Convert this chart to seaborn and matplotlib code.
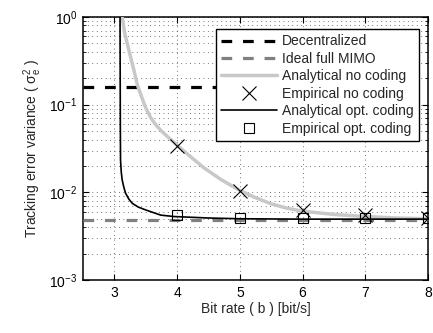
import numpy as np
import seaborn as sns
import matplotlib
matplotlib.use("Agg")
import matplotlib.pyplot as plt

# values
decentralized = 0.157
ideal_mimo = 0.0049

an_nocode_b = [3.115, 3.125, 3.16, 3.23, 3.31, 3.365, 3.43, 3.50, 3.58, 3.66,
               3.75, 3.85, 4.0, 4.2, 4.43, 4.7, 5.0, 5.25, 5.5, 5.75,
               6.0, 6.5, 7.0, 7.5, 8.0]
an_nocode_v = [1.3, 1.0, 0.68, 0.42, 0.25, 0.17, 0.125, 0.092, 0.071, 0.059,
               0.050, 0.043, 0.0345, 0.026, 0.019, 0.014, 0.0105, 0.0087, 0.0074, 0.0066,
               0.0061, 0.0056, 0.0053, 0.0051, 0.0050]

emp_nocode_b = [4, 5, 6, 7, 8]
emp_nocode_v = [0.034, 0.0104, 0.0063, 0.0055, 0.0051]

an_opt_b = [3.09, 3.092, 3.095, 3.098, 3.11, 3.125, 3.15, 3.178, 3.23, 3.285,
            3.38, 3.50, 3.74, 3.95, 4.5, 5.0, 6.0, 7.0, 8.0]
an_opt_v = [1.5, 0.3, 0.06, 0.0234, 0.017, 0.0138, 0.0115, 0.0098, 0.0084, 0.0075,
            0.0068, 0.0063, 0.0055, 0.0053, 0.0051, 0.0050, 0.00495, 0.00495, 0.00495]

emp_opt_b = [4, 5, 6, 7, 8]
emp_opt_v = [0.0055, 0.0051, 0.0051, 0.0051, 0.0051]

x_ticks = [3, 4, 5, 6, 7, 8]

sns.set_style("ticks")
plt.rcParams["font.family"] = ["Liberation Sans", "DejaVu Sans"]
plt.rcParams["font.size"] = 10
plt.rcParams["mathtext.fontset"] = "custom"
plt.rcParams["mathtext.rm"] = "Liberation Sans"
plt.rcParams["mathtext.it"] = "Liberation Sans:italic"
plt.rcParams["mathtext.sf"] = "Liberation Sans"
plt.rcParams["lines.scale_dashes"] = False

fig = plt.figure(figsize=(4.33, 3.33), dpi=100)
ax = fig.add_axes([0.1917, 0.159, 0.7968, 0.790])

dash = (0, (7.7, 7.8))
ax.axhline(decentralized, color="k", lw=2.3, ls=dash, label="Decentralized", zorder=3)
ax.axhline(ideal_mimo, color="#808080", lw=2.3, ls=dash, label="Ideal full MIMO", zorder=3)

sns.lineplot(x=an_nocode_b, y=an_nocode_v, ax=ax, color="#c8c8c8", lw=2.5,
             sort=False, estimator=None, label="Analytical no coding", zorder=4)
sns.lineplot(x=emp_nocode_b, y=emp_nocode_v, ax=ax, color="k", ls="", marker="x",
             markersize=9.5, mew=0.8, mec="k", sort=False, estimator=None,
             label="Empirical no coding", zorder=6)
sns.lineplot(x=an_opt_b, y=an_opt_v, ax=ax, color="k", lw=1.2,
             sort=False, estimator=None, label="Analytical opt. coding", zorder=5)
sns.lineplot(x=emp_opt_b, y=emp_opt_v, ax=ax, color="k", ls="", marker="s",
             markersize=6.5, mew=0.8, mfc="none", mec="k", sort=False, estimator=None,
             label="Empirical opt. coding", zorder=6)

ax.set_yscale("log")
ax.set_xlim(2.5, 8)
ax.set_ylim(1e-3, 1)
ax.set_xticks(x_ticks)
ax.set_xticklabels([str(t) for t in x_ticks])

grid_ls = (0, (0.6, 2.6))
ax.grid(True, which="major", axis="x", color="#222222", lw=0.5, ls=grid_ls)
ax.grid(True, which="both", axis="y", color="#222222", lw=0.5, ls=grid_ls)
ax.set_axisbelow(True)

ax.tick_params(which="both", direction="in", top=True, right=True, colors="k")
ax.tick_params(which="major", length=4, width=0.8, pad=4)
ax.tick_params(which="minor", length=2, width=0.6)
ax.tick_params(axis="x", which="minor", bottom=False, top=False)
for s in ax.spines.values():
    s.set_linewidth(1.1)
    s.set_color("k")

ax.set_xlabel("Bit rate ( b ) [bit/s]", labelpad=2)
ax.set_ylabel(r"Tracking error variance ( $\mathrm{\sigma}_\mathrm{e}^2$ )", labelpad=4)

handles, labels = ax.get_legend_handles_labels()
order = ["Decentralized", "Ideal full MIMO", "Analytical no coding",
         "Empirical no coding", "Analytical opt. coding", "Empirical opt. coding"]
hmap = dict(zip(labels, handles))
leg = ax.legend([hmap[k] for k in order], order, loc="upper right",
                bbox_to_anchor=(0.975, 0.955), borderaxespad=0, fancybox=False,
                framealpha=1, edgecolor="k", handlelength=4.0, handletextpad=0.4,
                labelspacing=0.25, borderpad=0.4, fontsize=10)
leg.get_frame().set_linewidth(1.0)

fig.savefig("out.png", dpi=100)
